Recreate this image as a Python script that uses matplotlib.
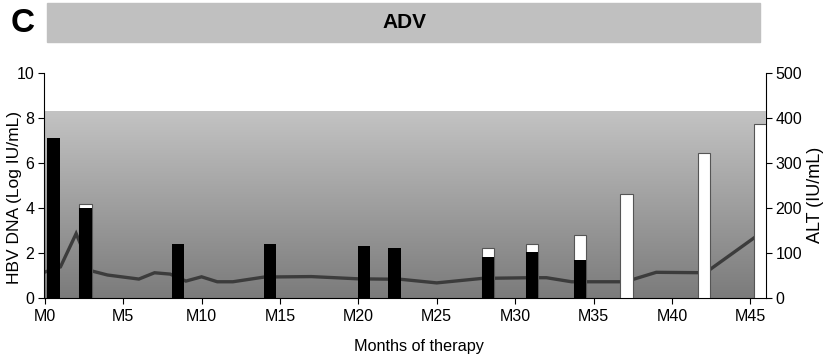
import numpy as np
import matplotlib.pyplot as plt

# HBV DNA (black bars, left axis, log IU/mL)
dna_month = [0.55, 2.6, 8.5, 14.35, 20.35, 22.3, 28.25, 31.1, 34.15]
dna_value = [7.1, 4.0, 2.4, 2.4, 2.3, 2.2, 1.83, 2.05, 1.68]

# ALT (white bars, right axis, IU/mL) - only the visible ones
alt_month = [2.6, 28.25, 31.1, 34.15, 37.1, 42.05, 45.6]
alt_value = [208, 111, 119, 139, 231, 323, 386]

# grey line
line_month = [0, 1, 2, 3, 4, 6, 7, 8, 9, 10, 11, 12, 14, 17, 20, 22.7,
              25, 27.9, 31, 32, 33.6, 36.7, 37.5, 39, 42.2, 42.4, 45.3]
line_value = [1.15, 1.38, 2.86, 1.2, 1.02, 0.84, 1.12, 1.06, 0.75, 0.94, 0.72, 0.72,
              0.93, 0.95, 0.85, 0.83, 0.67, 0.87, 0.9, 0.9, 0.72, 0.72, 0.82,
              1.14, 1.12, 1.25, 2.7]

xticks = np.arange(0, 46, 5)
xticklabels = [f"M{m}" for m in xticks]

plt.rcParams['font.family'] = ['Liberation Sans', 'DejaVu Sans']

fig = plt.figure(figsize=(8.27, 3.59), dpi=100)
ax = fig.add_axes([0.0532, 0.170, 0.8730, 0.627])
ax2 = ax.twinx()

xmin, xmax = -0.05, 46.0
ax.set_xlim(xmin, xmax)
ax.set_ylim(0, 10)
ax2.set_ylim(0, 500)

# grey gradient background
grad = np.linspace(0, 1, 256).reshape(-1, 1)
ax.imshow(grad, extent=[xmin, xmax, 0, 8.3], aspect='auto', origin='lower',
          cmap=plt.matplotlib.colors.LinearSegmentedColormap.from_list(
              'g', ['#7b7b7b', '#c3c3c3']), zorder=0)

ax.set_zorder(ax2.get_zorder() + 1)
ax.patch.set_visible(False)

# line and bars all on the front axes (ALT converted to left units)
ax.plot(line_month, line_value, color='#3c3c3c', lw=2.4, zorder=2, solid_joinstyle='miter')
ax.bar(alt_month, np.array(alt_value) / 50.0, width=0.78, color='white',
       edgecolor='#555555', linewidth=0.8, zorder=3)
ax.bar(dna_month, dna_value, width=0.78, color='black', zorder=4)

for a in (ax, ax2):
    a.spines['top'].set_visible(False)
ax.spines['right'].set_visible(False)
ax2.spines['left'].set_visible(False)
ax2.spines['bottom'].set_visible(False)

ax.set_xticks(xticks)
ax.set_xticklabels(xticklabels, fontsize=11.5)
ax.set_yticks(np.arange(0, 11, 2))
ax2.set_yticks(np.arange(0, 501, 100))
ax.tick_params(axis='x', direction='out', length=4, labelsize=11.5, pad=4)
ax.tick_params(axis='y', direction='out', length=4, labelsize=11.5, pad=3)
ax2.tick_params(axis='y', direction='out', length=4, labelsize=11.5, pad=3)

fig.text(15 / 827, 1 - 197 / 359, 'HBV DNA (Log IU/mL)', fontsize=12.5,
         rotation=90, ha='center', va='center')
fig.text(815 / 827, 1 - 195 / 359, 'ALT (IU/mL)', fontsize=13,
         rotation=90, ha='center', va='center')
fig.text(419 / 827, 1 - 347 / 359, 'Months of therapy', fontsize=11.7,
         ha='center', va='center')

# header band
fig.patches.append(plt.Rectangle((47 / 827, 1 - 42 / 359), (760 - 47) / 827, 39 / 359,
                                 transform=fig.transFigure, color='#c0c0c0', zorder=0))
fig.text(404 / 827, 1 - 22 / 359, 'ADV', fontsize=15, fontweight='bold',
         ha='center', va='center')
fig.text(23 / 827, 1 - 23 / 359, 'C', fontsize=24, fontweight='bold',
         ha='center', va='center')

fig.savefig('out.png', dpi=100)
